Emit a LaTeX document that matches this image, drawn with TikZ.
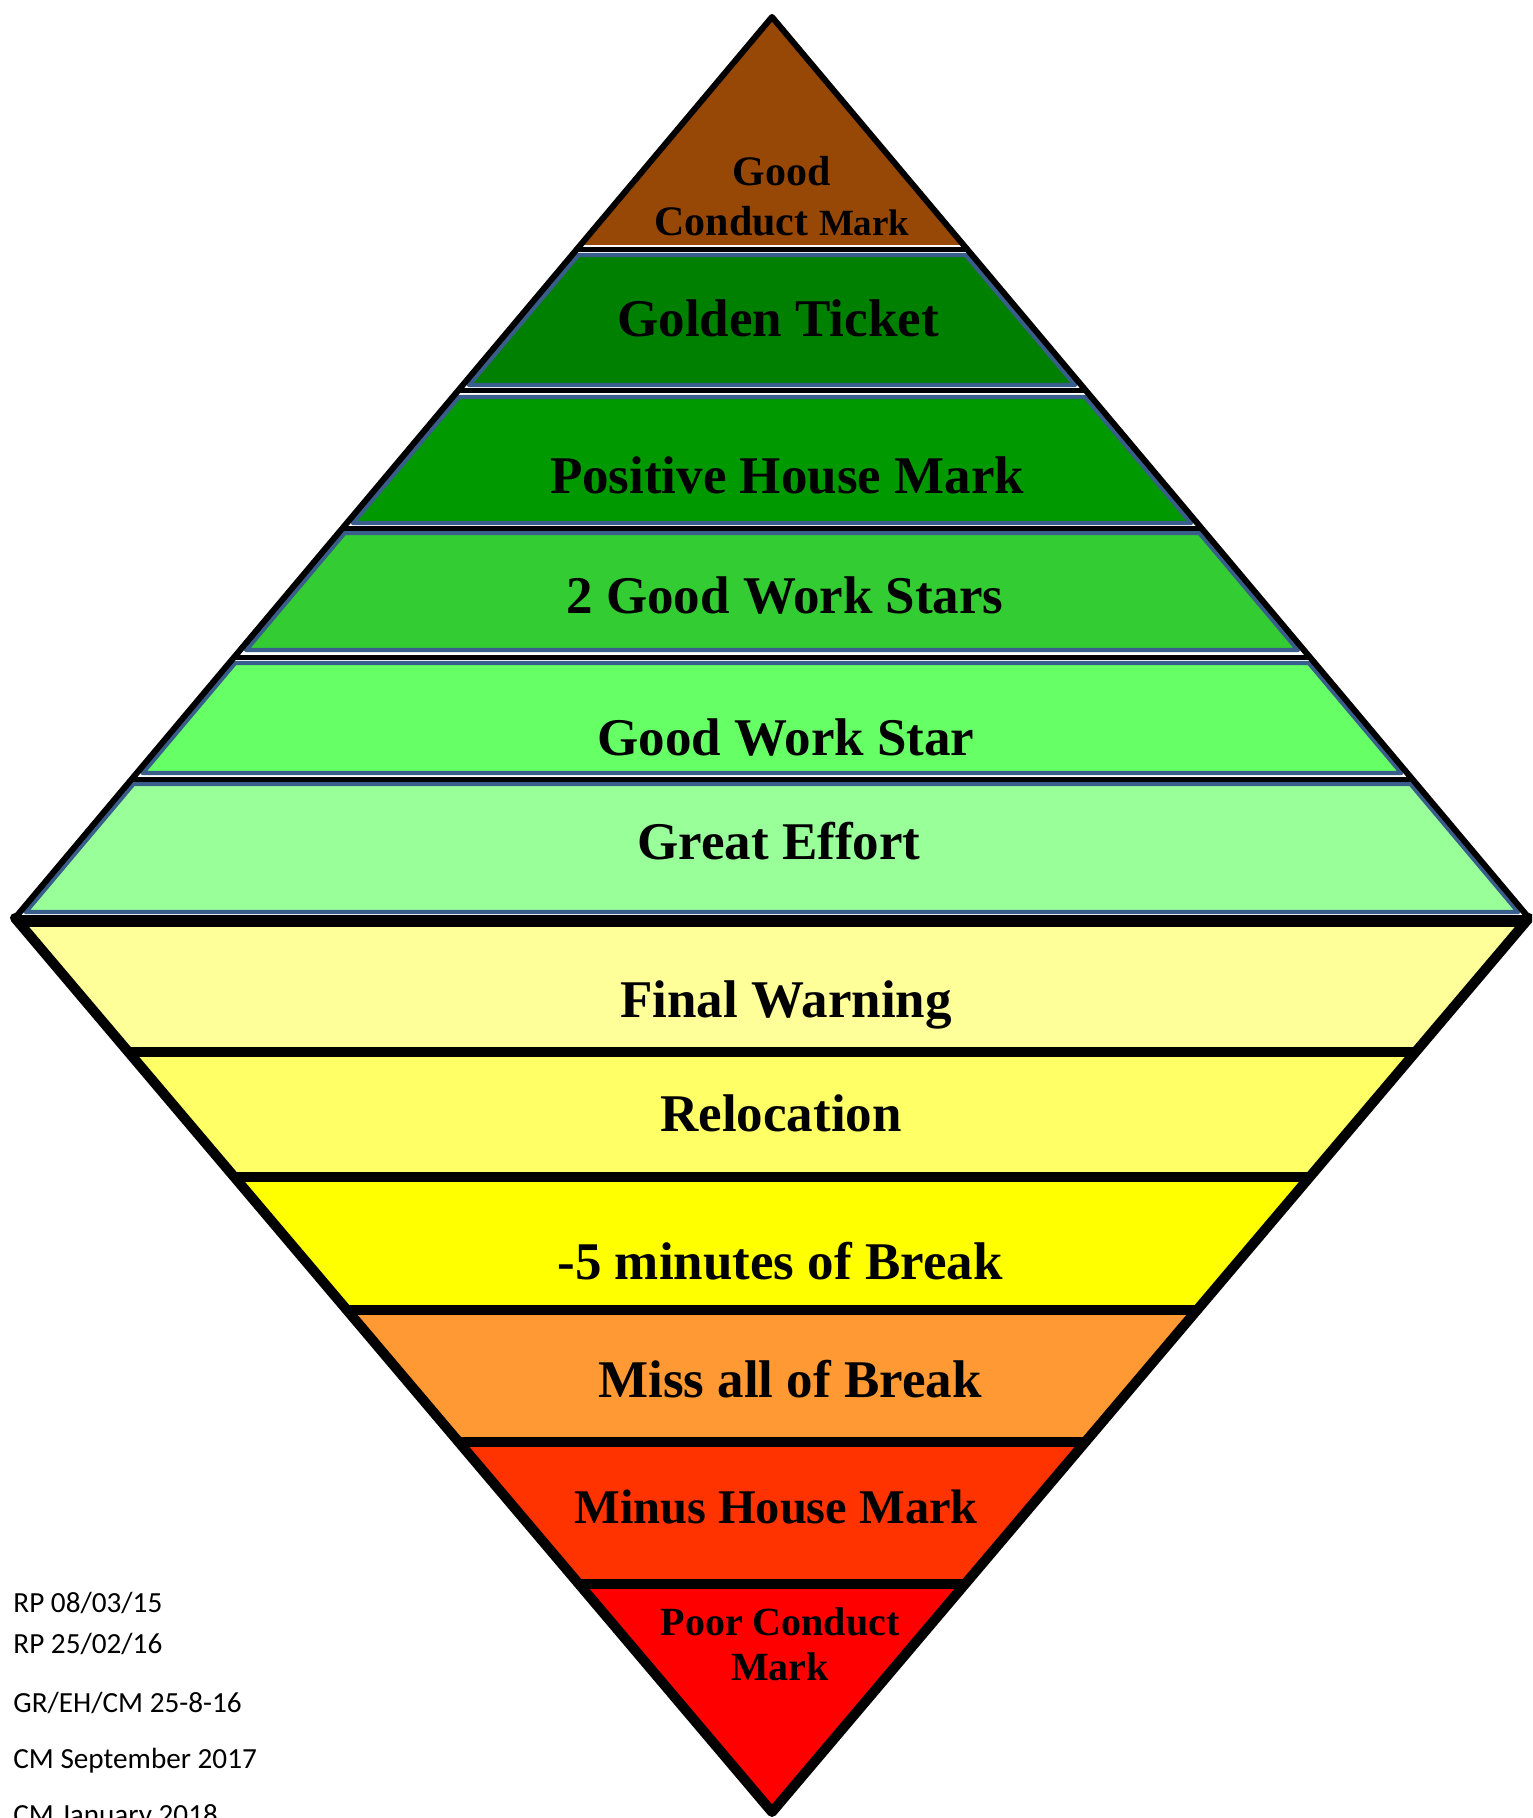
\documentclass[tikz,border=0pt]{standalone}
\usepackage{fontspec}
\usepackage{tikz}

\newfontfamily\ladderfont{Liberation Serif}
\newfontfamily\notefont{Carlito}

\definecolor{conductbrown}{HTML}{974806}
\definecolor{ticketgreen}{HTML}{008000}
\definecolor{housegreen}{HTML}{009900}
\definecolor{starsgreen}{HTML}{33CC33}
\definecolor{stargreen}{HTML}{66FF66}
\definecolor{effortgreen}{HTML}{99FF99}
\definecolor{warnyellow}{HTML}{FFFF99}
\definecolor{relocyellow}{HTML}{FFFF66}
\definecolor{breakyellow}{HTML}{FFFF00}
\definecolor{missorange}{HTML}{FF9933}
\definecolor{minusred}{HTML}{FF3300}
\definecolor{poorred}{HTML}{FF0000}
\definecolor{bandblue}{HTML}{3A5E8C}

\tikzset{
	upband/.style={draw=bandblue, line width=2.2pt, line join=round},
	upsep/.style={draw=black, line width=2.5pt},
	lowsep/.style={draw=black, line width=5pt},
	rung/.style={font={\ladderfont\bfseries\fontsize{26.5}{30}\selectfont}, anchor=base, inner sep=0pt},
	tiprung/.style={align=center, inner sep=0pt},
	revnote/.style={font={\notefont\fontsize{14.6}{16}\selectfont}, anchor=base west, inner sep=0pt}
}

\begin{document}
\begin{tikzpicture}[x=0.5pt, y=-0.5pt]
	\useasboundingbox (0,0) rectangle (1532,1818);
	\clip (0,0) rectangle (1532,1818);
	
	\coordinate (top) at (772,17);
	\coordinate (left) at (15,918);
	\coordinate (right) at (1529,918);
	\coordinate (bottom) at (772,1812);
	
	% rewards
	\fill[conductbrown] (top) -- (963.8,245) -- (580.2,245) -- cycle;
	\draw[upband, fill=ticketgreen] (578.3,255) -- (965.7,255) -- (1075.0,385) -- (469.0,385) -- cycle;
	\draw[upband, fill=housegreen] (458.9,397) -- (1085.1,397) -- (1191.1,523) -- (352.9,523) -- cycle;
	\draw[upband, fill=starsgreen] (344.5,533) -- (1199.5,533) -- (1297.9,650) -- (246.1,650) -- cycle;
	\draw[upband, fill=stargreen] (235.1,663) -- (1308.9,663) -- (1401.4,773) -- (142.6,773) -- cycle;
	\draw[upband, fill=effortgreen] (133.4,784) -- (1410.6,784) -- (1518.3,912) -- (25.7,912) -- cycle;
	\draw[upsep] (576.0,250) -- (968.0,250);
	\draw[upsep] (457.4,391) -- (1086.6,391);
	\draw[upsep] (342.2,528) -- (1201.8,528);
	\draw[upsep] (233.7,657) -- (1310.3,657);
	\draw[upsep] (131.1,779) -- (1412.9,779);
	
	% sanctions
	\fill[warnyellow] (17.5,921) -- (1526.5,921) -- (1415.6,1052) -- (128.4,1052) -- cycle;
	\fill[relocyellow] (128.4,1052) -- (1415.6,1052) -- (1309.7,1177) -- (234.3,1177) -- cycle;
	\fill[breakyellow] (234.3,1177) -- (1309.7,1177) -- (1197.1,1310) -- (346.9,1310) -- cycle;
	\fill[missorange] (346.9,1310) -- (1197.1,1310) -- (1085.3,1442) -- (458.7,1442) -- cycle;
	\fill[minusred] (458.7,1442) -- (1085.3,1442) -- (965.1,1584) -- (578.9,1584) -- cycle;
	\fill[poorred] (578.9,1584) -- (965.1,1584) -- (bottom) -- cycle;
	\draw[lowsep] (128.4,1052) -- (1415.6,1052);
	\draw[lowsep] (234.3,1177) -- (1309.7,1177);
	\draw[lowsep] (346.9,1310) -- (1197.1,1310);
	\draw[lowsep] (458.7,1442) -- (1085.3,1442);
	\draw[lowsep] (578.9,1584) -- (965.1,1584);
	\draw[line width=6pt] (17,921) -- (1527,921);
	
	\draw[line width=5pt, line join=round, line cap=round] (left) -- (bottom) -- (right);
	\draw[line width=3pt, line join=round] (left) -- (top) -- (right);
	
	\node[tiprung, font={\ladderfont\bfseries\fontsize{21}{25}\selectfont}] (goodconduct) at (782,196) {Good\\Conduct {\fontsize{18.5}{22}\selectfont Mark}};
	\node[rung] (goldenticket) at (778,337) {Golden Ticket};
	\node[rung] (housemark) at (787,494) {Positive House Mark};
	\node[rung] (twostars) at (785,613) {2 Good Work Stars};
	\node[rung] (onestar) at (786,755) {Good Work Star};
	\node[rung] (effort) at (779,859) {Great Effort};
	\node[rung] (warning) at (786,1017) {Final Warning};
	\node[rung] (relocation) at (781,1131) {Relocation};
	\node[rung] (fivemin) at (780,1279) {-5 minutes of Break};
	\node[rung] (missbreak) at (790,1397) {Miss all of Break};
	\node[rung, font={\ladderfont\bfseries\fontsize{24.2}{28}\selectfont}] (minusmark) at (776,1523) {Minus House Mark};
	\node[tiprung, font={\ladderfont\bfseries\fontsize{20}{22.5}\selectfont}] (poorconduct) at (780,1644) {Poor Conduct\\Mark};
	
	\node[revnote] (revone) at (13,1612) {RP 08/03/15};
	\node[revnote] (revtwo) at (13,1653) {RP 25/02/16};
	\node[revnote] (revthree) at (13,1712) {GR/EH/CM 25-8-16};
	\node[revnote] (revfour) at (13,1768) {CM September 2017};
	\node[revnote] (revfive) at (13,1824) {CM January 2018};
\end{tikzpicture}
\end{document}
